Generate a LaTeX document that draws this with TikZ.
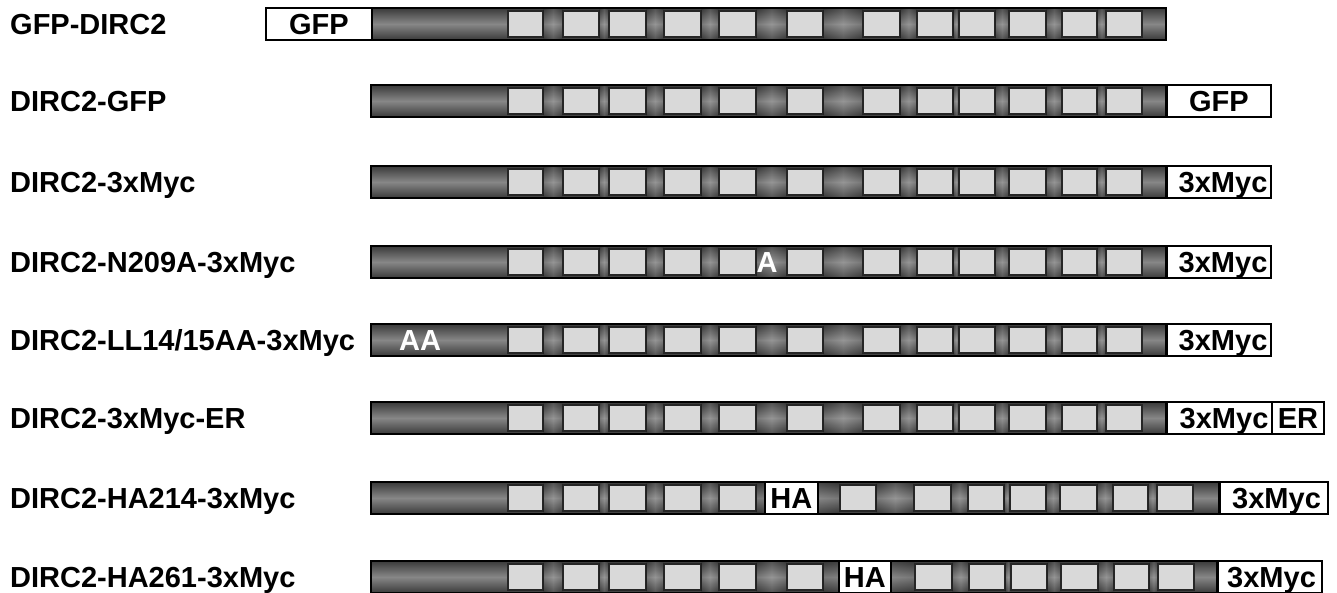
\documentclass[tikz,border=0pt]{standalone}
\usepackage{fontspec}
\setmainfont{Liberation Sans}
\definecolor{barEdge}{HTML}{3A3A3A}
\definecolor{barMid}{HTML}{878787}
\definecolor{repFill}{HTML}{D9D9D9}
\newcommand{\bigbf}{\fontsize{29}{32}\selectfont\bfseries}
% bar with repeat boxes: top y, start x, end x, list of repeats
\newcommand{\protbar}[4]{%
  \shade[bar] (#2,#1) rectangle (#3,#1+32);
  \foreach \a/\b [remember=\b as \pb (initially 0)] in #4 {
    \ifnum\pb>0 \shade[gap] (\pb,#1+1) rectangle (\a,#1+31); \fi
    \draw[rep] (\a,#1+3) rectangle (\b,#1+29);}
  \draw[barline] (#2,#1) rectangle (#3,#1+32);}
\def\repsStd{508/543,563/599,609/646,664/701,719/756,787/823,863/900,917/953,959/995,1009/1046,1062/1097,1106/1142}
\def\repsHAa{508/543,563/599,609/646,664/701,719/756,840/876,914/951,968/1004,1010/1046,1060/1097,1113/1148,1157/1193}
\def\repsHAb{508/543,563/599,609/646,664/701,719/756,787/823,915/952,969/1005,1011/1047,1061/1098,1114/1149,1158/1194}
\begin{document}
\begin{tikzpicture}[x=1pt, y=-1pt,
        bar/.style={top color=barEdge, bottom color=barEdge, middle color=barMid},
        barline/.style={draw=black, line width=1.8pt},
        gap/.style={left color=black, right color=black, middle color=white, opacity=0.12},
        rep/.style={draw=black!85, line width=1.1pt, fill=repFill},
        tag/.style={draw=black, line width=1.8pt, fill=white, minimum height=32pt, inner sep=0pt,
            text height=21pt, text depth=0pt, anchor=west, font=\bigbf},
        myc/.style={tag, align=right},
        lbl/.style={anchor=west, inner sep=0pt, text height=21pt, text depth=0pt, font=\bigbf},
        mut/.style={text=white, inner sep=0pt, text height=21pt, text depth=0pt, font=\bigbf}]
    \useasboundingbox (0,0) rectangle (1337,593);
    % labels
    \node[lbl] (l1) at (10,24) {GFP-DIRC2};
    \node[lbl] (l2) at (10,101) {DIRC2-GFP};
    \node[lbl] (l3) at (10,182) {DIRC2-3xMyc};
    \node[lbl] (l4) at (10,262) {DIRC2-N209A-3xMyc};
    \node[lbl] (l5) at (10,340) {DIRC2-LL14/15AA-3xMyc};
    \node[lbl] (l6) at (10,418) {DIRC2-3xMyc-ER};
    \node[lbl] (l7) at (10,498) {DIRC2-HA214-3xMyc};
    \node[lbl] (l8) at (10,577) {DIRC2-HA261-3xMyc};
    % constructs
    \protbar{8}{371}{1166}{\repsStd}
    \node[tag, minimum width=106pt] (gfpN) at (265,24) {GFP};
    \protbar{85}{371}{1166}{\repsStd}
    \node[tag, minimum width=104pt] (gfpC) at (1166,101) {GFP};
    \protbar{166}{371}{1166}{\repsStd}
    \node[myc, minimum width=104pt, text width=97pt] (myc3) at (1166,182) {3xMyc};
    \protbar{246}{371}{1166}{\repsStd}
    \node[mut] (mutA) at (767,262) {A};
    \node[myc, minimum width=104pt, text width=97pt] (myc4) at (1166,262) {3xMyc};
    \protbar{324}{371}{1166}{\repsStd}
    \node[mut] (mutAA) at (420,340) {AA};
    \node[myc, minimum width=104pt, text width=97pt] (myc5) at (1166,340) {3xMyc};
    \protbar{402}{371}{1166}{\repsStd}
    \node[myc, minimum width=105pt, text width=98pt] (myc6) at (1166,418) {3xMyc};
    \node[tag, minimum width=52pt] (er6) at (1271,418) {ER};
    \protbar{482}{371}{1219}{\repsHAa}
    \node[tag, minimum width=53pt] (ha7) at (764,498) {HA};
    \node[myc, minimum width=108pt, text width=94pt] (myc7) at (1219,498) {3xMyc};
    \protbar{561}{371}{1217}{\repsHAb}
    \node[tag, minimum width=52pt] (ha8) at (838,577) {HA};
    \node[myc, minimum width=104pt, text width=92pt] (myc8) at (1217,577) {3xMyc};
\end{tikzpicture}
\end{document}
